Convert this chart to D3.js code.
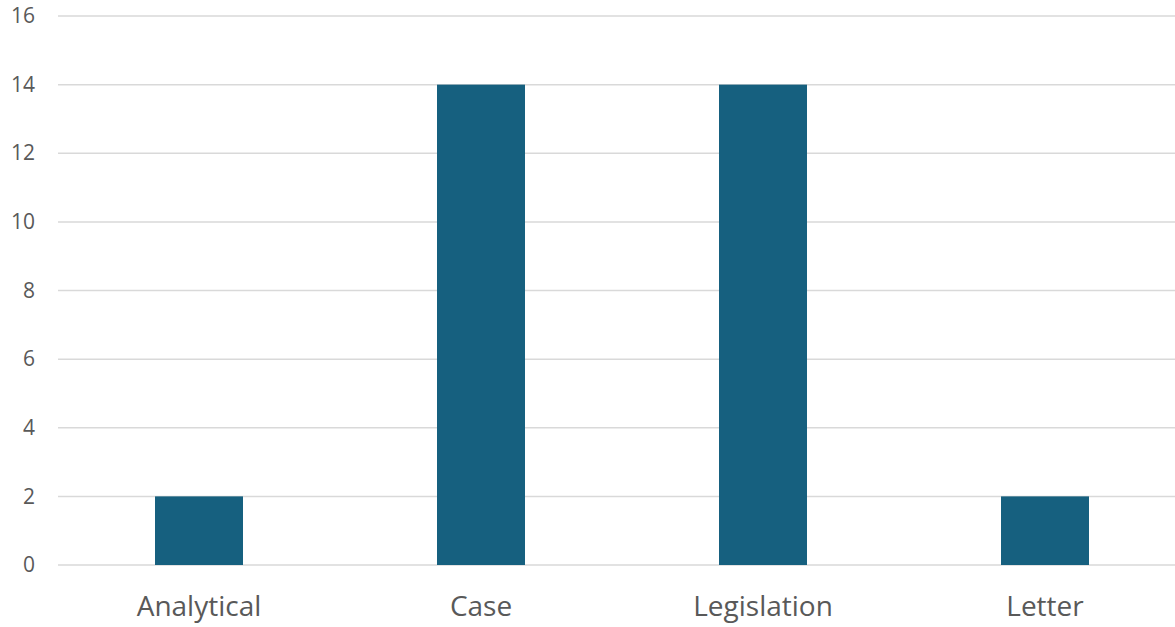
<!DOCTYPE html>
<html>
<head>
<meta charset="utf-8">
<script src="https://cdn.jsdelivr.net/npm/d3@7"></script>
<style>
  body { margin: 0; background: #fff; }
  #chart text { font-family: "Open Sans", sans-serif; fill: #595959; }
</style>
</head>
<body>
<div id="chart"></div>
<script>
const categories = ['Analytical', 'Case', 'Legislation', 'Letter'];
const counts = [2, 14, 14, 2];
const yTicks = [0, 2, 4, 6, 8, 10, 12, 14, 16];

const chartWidth = 1175;
const chartHeight = 627;
const margin = { top: 16, right: -11, bottom: 62, left: 58 };
const width = chartWidth - margin.left - margin.right;
const height = chartHeight - margin.top - margin.bottom;

const svg = d3.select('#chart')
  .append('svg')
  .attr('width', chartWidth)
  .attr('height', chartHeight)
  .append('g')
  .attr('transform', `translate(${margin.left},${margin.top})`);

const x = d3.scaleBand()
  .domain(categories)
  .range([0, width])
  .paddingInner(0.688)
  .paddingOuter(0.344);

const y = d3.scaleLinear()
  .domain([0, 16])
  .range([height, 0]);

// gridlines
svg.append('g')
  .selectAll('line')
  .data(yTicks)
  .enter()
  .append('line')
  .attr('x1', 0)
  .attr('x2', chartWidth - margin.left)
  .attr('y1', (d) => y(d))
  .attr('y2', (d) => y(d))
  .attr('stroke', '#d9d9d9')
  .attr('stroke-width', '1.5px');

// y labels
const yAxis = svg.append('g')
  .attr('transform', 'translate(-23,0)')
  .call(d3.axisLeft(y).tickValues(yTicks).tickSize(0).tickPadding(0));
yAxis.select('.domain').remove();
yAxis.selectAll('text').style('font-size', '21px');

// bars
svg.selectAll('rect.bar')
  .data(categories)
  .enter()
  .append('rect')
  .attr('class', 'bar')
  .attr('x', (d) => x(d))
  .attr('width', x.bandwidth())
  .attr('y', (d, i) => y(counts[i]))
  .attr('height', (d, i) => y(0) - y(counts[i]))
  .attr('fill', '#16607f');

// x labels
const xAxis = svg.append('g')
  .attr('transform', `translate(0,${height})`)
  .call(d3.axisBottom(x).tickSize(0).tickPadding(31));
xAxis.select('.domain').remove();
xAxis.selectAll('text').style('font-size', '28px');
</script>
</body>
</html>
